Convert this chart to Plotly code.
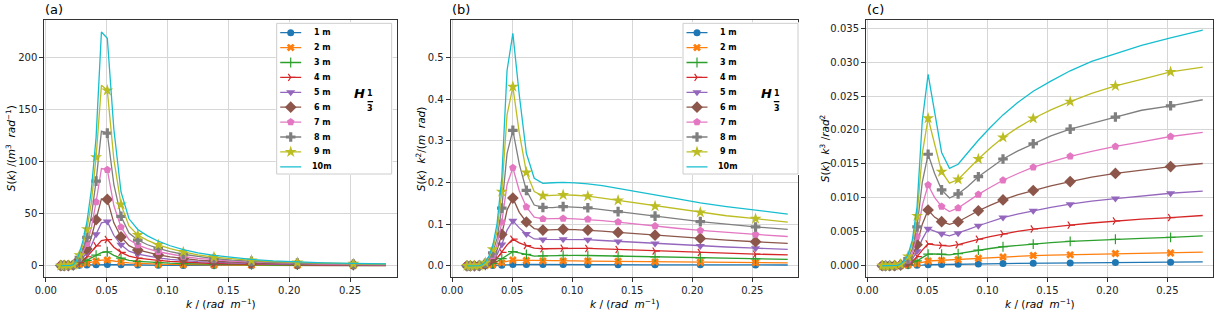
import plotly.graph_objects as go

W, H = 1221, 312

# ---------------- data ----------------
k = [0.01237, 0.01368, 0.01513, 0.01673, 0.01850, 0.02045, 0.02262, 0.02501,
     0.02766, 0.03058, 0.03382, 0.03740, 0.04135, 0.04573, 0.05057, 0.05592,
     0.06183, 0.06837, 0.07560, 0.08360, 0.09245, 0.1022, 0.1130, 0.1250,
     0.1382, 0.1529, 0.1690, 0.1869, 0.2067, 0.2285, 0.2527, 0.2795]

S_1m = [0, 0, 0, 0, 0.01, 0.02, 0.05, 0.12, 0.25, 0.4, 0.6, 0.8, 0.95, 1.0, 1.17, 0.99,
        0.84, 0.66, 0.525, 0.415, 0.339, 0.268, 0.219, 0.173, 0.141, 0.111, 0.0875,
        0.0687, 0.0538, 0.0421, 0.0329, 0.0256]
S_2m = [0, 0, 0, 0.01, 0.02, 0.05, 0.15, 0.45, 1.0, 1.7, 2.5, 3.4, 4.2, 5.2, 5.4, 4.3,
        3.37, 2.67, 2.08, 1.70, 1.39, 1.12, 0.90, 0.717, 0.571, 0.436, 0.333, 0.26,
        0.204, 0.155, 0.117, 0.092]
S_3m = [0, 0, 0, 0.01, 0.03, 0.08, 0.25, 0.7, 1.8, 3.2, 5, 7.5, 10, 12.5, 13.3, 9.9,
        7.19, 5.0, 4.16, 3.51, 2.91, 2.38, 1.94, 1.54, 1.21, 0.954, 0.746, 0.575,
        0.442, 0.339, 0.26, 0.201]
S_4m = [0, 0, 0, 0.01, 0.04, 0.1, 0.35, 1.1, 3, 5.5, 8.5, 13, 19, 24, 25, 17.6,
        12.7, 9.07, 7.17, 5.98, 4.94, 4.02, 3.26, 2.59, 2.05, 1.60, 1.24, 0.965,
        0.747, 0.575, 0.44, 0.339]
S_5m = [0, 0, 0, 0.02, 0.05, 0.15, 0.5, 1.6, 4.5, 8, 12.5, 19, 30, 41, 42.2, 29.1,
        19.9, 13.8, 11.1, 9.11, 7.46, 6.07, 4.92, 3.89, 3.07, 2.41, 1.88, 1.46,
        1.12, 0.864, 0.662, 0.504]
S_6m = [0, 0, 0, 0.02, 0.06, 0.2, 0.6, 2, 6, 10, 16, 27, 44, 64, 63.5, 41,
        27.5, 19.1, 15.0, 12.4, 10.25, 8.33, 6.72, 5.34, 4.20, 3.29, 2.57, 2.0,
        1.54, 1.18, 0.905, 0.69]
S_7m = [0, 0, 0, 0.03, 0.07, 0.2, 0.7, 2.4, 7, 13, 21, 36, 61, 93, 92, 57.6,
        36.9, 25.0, 19.7, 16.2, 13.3, 10.8, 8.73, 6.94, 5.50, 4.28, 3.34, 2.58,
        1.99, 1.53, 1.18, 0.90]
S_8m = [0, 0, 0, 0.03, 0.08, 0.25, 0.8, 2.8, 8, 16, 27, 47, 81, 129, 127, 78,
        47.3, 31.2, 24.5, 20.0, 16.6, 13.5, 10.9, 8.64, 6.81, 5.35, 4.17, 3.22,
        2.48, 1.92, 1.46, 1.12]
S_9m = [0, 0, 0, 0.04, 0.1, 0.3, 0.9, 3.4, 10, 20, 35, 60, 104, 173, 168, 102,
        58.6, 38.1, 29.4, 24.2, 19.9, 16.2, 13.1, 10.4, 8.22, 6.42, 5.01, 3.89,
        3.0, 2.30, 1.77, 1.34]
S_10m = [0, 0, 0, 0.05, 0.1, 0.3, 1, 4, 12, 24, 42, 72, 123, 224, 218, 131,
         70.6, 44.9, 34.6, 28.5, 23.4, 19.05, 15.4, 12.3, 9.74, 7.61, 5.95, 4.61,
         3.53, 2.72, 2.08, 1.59]

series_labels = ["1 m", "2 m", "3 m", "4 m", "5 m", "6 m", "7 m", "8 m", "9 m", "10m"]
series_values = [S_1m, S_2m, S_3m, S_4m, S_5m, S_6m, S_7m, S_8m, S_9m, S_10m]

x_ticks = [0.00, 0.05, 0.10, 0.15, 0.20, 0.25]
panel_letters = ["(a)", "(b)", "(c)"]
k_powers = [0, 2, 3]

# ---------------- styles ----------------
colors = ["#1f77b4", "#ff7f0e", "#2ca02c", "#d62728", "#9467bd",
          "#8c564b", "#e377c2", "#7f7f7f", "#bcbd22", "#17becf"]
symbols = ["circle", "x", "cross-thin", "y-right", "triangle-down",
           "diamond", "pentagon", "cross", "star", None]
msizes = [7, 7, 7, 6, 8, 9, 8, 8, 9, 0]
FONT = "DejaVu Sans"


def px_x(p):
    return p / W


def px_y(p):
    return 1 - p / H


fig = go.Figure()

axis_names = [("x", "y"), ("x2", "y2"), ("x3", "y3")]
frame_x = [(44.3, 396.7), (450.7, 798.3), (866.0, 1213.3)]
frame_y = (20.0, 277.3)
y_ranges = [[-11.2, 235.5], [-0.0275, 0.5895], [-0.0017, 0.0362]]
y_dticks = [50, 0.1, 0.005]
y_formats = ["d", ".1f", ".3f"]
every_other = list(range(0, len(k), 2))


def marker_style(si):
    mk = dict(symbol=symbols[si], size=msizes[si], color=colors[si])
    if symbols[si] in ("cross-thin", "y-right"):
        mk["line"] = dict(color=colors[si], width=1.2)
    return mk


for pi, (xa, ya) in enumerate(axis_names):
    p = k_powers[pi]
    for si, S in enumerate(series_values):
        vals = [s * kk ** p for s, kk in zip(S, k)]
        if symbols[si] is None:
            fig.add_trace(go.Scatter(x=k, y=vals, mode="lines", xaxis=xa, yaxis=ya,
                                     line=dict(color=colors[si], width=1.3),
                                     showlegend=False, hoverinfo="skip"))
        else:
            fig.add_trace(go.Scatter(x=k, y=vals, mode="lines+markers", xaxis=xa, yaxis=ya,
                                     line=dict(color=colors[si], width=1.3),
                                     marker=marker_style(si),
                                     selectedpoints=every_other,
                                     selected=dict(marker=dict(opacity=1)),
                                     unselected=dict(marker=dict(opacity=0)),
                                     showlegend=False, hoverinfo="skip"))

layout = dict(
    width=W, height=H, margin=dict(l=0, r=0, t=0, b=0, autoexpand=False),
    paper_bgcolor="white", plot_bgcolor="white", showlegend=False,
    font=dict(family=FONT, size=10, color="#000"),
)

for pi, (xa, ya) in enumerate(axis_names):
    xk = "xaxis" if pi == 0 else f"xaxis{pi+1}"
    yk = "yaxis" if pi == 0 else f"yaxis{pi+1}"
    layout[xk] = dict(
        domain=[px_x(frame_x[pi][0]), px_x(frame_x[pi][1])], anchor=ya, automargin=False,
        range=[-0.0012, 0.2883], tickvals=x_ticks, tickformat=".2f",
        showgrid=True, gridcolor="#d6d6d6", gridwidth=1, zeroline=False,
        showline=True, mirror=True, linecolor="#333", linewidth=1,
        ticks="outside", ticklen=4, tickwidth=1, tickcolor="#333",
        tickfont=dict(family=FONT, size=10, color="#222"))
    layout[yk] = dict(
        domain=[px_y(frame_y[1]), px_y(frame_y[0])], anchor=xa, automargin=False,
        range=y_ranges[pi], dtick=y_dticks[pi], tick0=0, tickformat=y_formats[pi],
        showgrid=True, gridcolor="#d6d6d6", gridwidth=1, zeroline=False,
        showline=True, mirror=True, linecolor="#333", linewidth=1,
        ticks="outside", ticklen=4, tickwidth=1, tickcolor="#333",
        tickfont=dict(family=FONT, size=10, color="#222"))

# ---------------- legends (panels a and b) ----------------
legend_boxes = [276.7, 683.0]   # left edge in px
LEG_TOP = 23.3
LEG_W, LEG_H = 115.0, 150.7
row_y = [9.4 + 14.9 * i for i in range(10)]
annotations = []
shapes = []

for li, bx in enumerate(legend_boxes):
    n = 4 + li
    xa, ya = f"x{n}", f"y{n}"
    layout[f"xaxis{n}"] = dict(domain=[px_x(bx - 1), px_x(bx + LEG_W + 1)], anchor=ya,
                               range=[-1, LEG_W + 1], visible=False, fixedrange=True,
                               automargin=False)
    layout[f"yaxis{n}"] = dict(domain=[px_y(LEG_TOP + LEG_H + 1), px_y(LEG_TOP - 1)], anchor=xa,
                               range=[LEG_H + 1, -1], visible=False, fixedrange=True,
                               automargin=False)
    fig.add_trace(go.Scatter(x=[0, LEG_W, LEG_W, 0, 0], y=[0, 0, LEG_H, LEG_H, 0],
                             mode="lines", fill="toself", fillcolor="rgba(255,255,255,0.9)",
                             line=dict(color="#cccccc", width=1), xaxis=xa, yaxis=ya,
                             showlegend=False, hoverinfo="skip"))
    for si in range(10):
        fig.add_trace(go.Scatter(x=[3.5, 24.5], y=[row_y[si], row_y[si]], mode="lines",
                                 line=dict(color=colors[si], width=1.3), xaxis=xa, yaxis=ya,
                                 showlegend=False, hoverinfo="skip"))
        if symbols[si] is not None:
            fig.add_trace(go.Scatter(x=[14.0], y=[row_y[si]], mode="markers",
                                     marker=marker_style(si),
                                     xaxis=xa, yaxis=ya, showlegend=False, hoverinfo="skip"))
        annotations.append(dict(x=55, y=row_y[si], xref=xa, yref=ya,
                                text=f"<b>{series_labels[si]}</b>",
                                showarrow=False, xanchor="right", yanchor="middle",
                                font=dict(family=FONT, size=8, color="#000"), borderpad=0))
    # H_{1/3}
    annotations.append(dict(x=83.0, y=70, xref=xa, yref=ya, text="<b><i>H</i></b>", showarrow=False,
                            xanchor="center", yanchor="middle",
                            font=dict(family=FONT, size=13, color="#000"), borderpad=0))
    annotations.append(dict(x=93.5, y=70.5, xref=xa, yref=ya, text="<b>1</b>", showarrow=False,
                            xanchor="center", yanchor="middle",
                            font=dict(family=FONT, size=8, color="#000"), borderpad=0))
    annotations.append(dict(x=93.5, y=85.0, xref=xa, yref=ya, text="<b>3</b>", showarrow=False,
                            xanchor="center", yanchor="middle",
                            font=dict(family=FONT, size=8, color="#000"), borderpad=0))
    shapes.append(dict(type="line", xref=xa, yref=ya, x0=90.8, x1=96.4, y0=78.4, y1=78.4,
                       line=dict(color="#000", width=1.2), layer="above"))

# ---------------- titles ----------------
x_title = "<i>k</i> / (<i>rad</i>\u00a0\u00a0<i>m</i><sup>\u22121</sup>)"
y_titles = ["<i>S</i>(<i>k</i>) /(<i>m</i><sup>3</sup>\u00a0\u00a0<i>rad</i><sup>\u22121</sup>)",
            "<i>S</i>(<i>k</i>)\u00a0\u00a0<i>k</i><sup>2</sup>/(<i>m</i>\u00a0\u00a0<i>rad</i>)",
            "<i>S</i>(<i>k</i>)\u00a0\u00a0<i>k</i><sup>3</sup> /<i>rad</i><sup>2</sup>"]
y_title_x = [10.5, 420.5, 824.5]
panel_label_x = [42.5, 449.5, 865.0]

for pi in range(3):
    cx = (frame_x[pi][0] + frame_x[pi][1]) / 2
    cy = (frame_y[0] + frame_y[1]) / 2
    annotations.append(dict(x=px_x(cx), y=px_y(303.0), xref="paper", yref="paper", text=x_title,
                            showarrow=False, xanchor="center", yanchor="middle",
                            font=dict(family=FONT, size=10.5, color="#000")))
    annotations.append(dict(x=px_x(y_title_x[pi]), y=px_y(cy), xref="paper", yref="paper",
                            text=y_titles[pi], textangle=-90, showarrow=False,
                            xanchor="center", yanchor="middle",
                            font=dict(family=FONT, size=10.5, color="#000")))
    annotations.append(dict(x=px_x(panel_label_x[pi]), y=px_y(9.0), xref="paper", yref="paper",
                            text=panel_letters[pi], showarrow=False, xanchor="left", yanchor="middle",
                            font=dict(family=FONT, size=13, color="#000")))

layout["annotations"] = annotations
layout["shapes"] = shapes
fig.update_layout(**layout)

fig.write_html("out.html",
               config={"displayModeBar": False, "staticPlot": True},
               post_script="document.body.style.margin='0';document.body.style.overflow='hidden';")
